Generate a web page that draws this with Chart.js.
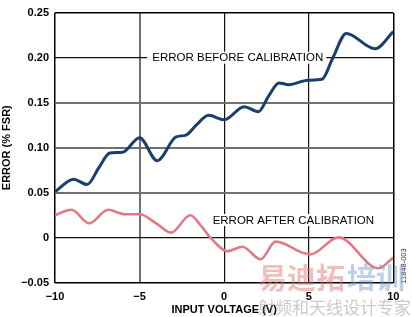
<!DOCTYPE html>
<html>
<head>
<meta charset="utf-8">
<script src="https://cdn.jsdelivr.net/npm/chart.js@4.4.1/dist/chart.umd.min.js"></script>
<style>
  html, body { margin: 0; padding: 0; background: #fff; }
  #wrap { position: relative; width: 412px; height: 317px; }
</style>
</head>
<body>
<div id="wrap"><canvas id="chart" width="412" height="317"></canvas></div>
<script>
// error before calibration (% FSR) vs input voltage (V)
const beforeX = [-10, -8.9, -8.1, -7.4, -6.76, -6.0, -5.0, -3.96, -2.84, -2.25, -1.65, -0.92, 0.0, 1.18, 2.02, 2.62, 3.24, 3.82, 4.96, 5.78, 6.43, 7.22, 8.92, 10];
const beforeY = [0.051, 0.065, 0.059, 0.078, 0.094, 0.095, 0.111, 0.0856, 0.112, 0.114, 0.125, 0.136, 0.131, 0.1456, 0.140, 0.157, 0.172, 0.170, 0.175, 0.176, 0.200, 0.227, 0.210, 0.229];

// error after calibration
const afterX = [-10, -9.02, -7.98, -6.86, -5.88, -5.0, -4.02, -3.14, -2.0, -1.4, -0.81, 0.2, 1.08, 2.16, 3.04, 4.7, 5.1, 6.76, 9.12, 10];
const afterY = [0.025, 0.031, 0.016, 0.031, 0.026, 0.026, 0.016, 0.0056, 0.025, 0.014, 0.0, -0.015, -0.010, -0.024, -0.0044, -0.017, -0.0185, 0.0004, -0.034, -0.022];

const xTicks = [-10, -5, 0, 5, 10];
const xTickLabels = ['−10', '−5', '0', '5', '10'];
const yTicks = [-0.05, 0, 0.05, 0.10, 0.15, 0.20, 0.25];
const yTickLabels = ['−0.05', '0', '0.05', '0.10', '0.15', '0.20', '0.25'];

const curveLabels = ['ERROR BEFORE CALIBRATION', 'ERROR AFTER CALIBRATION'];
const labelAt = [[-4.25, 0.20], [-0.68, 0.0197]];

const FONT = '"Liberation Sans", Arial, sans-serif';

const toPoints = (xs, ys) => xs.map((x, i) => ({ x: x, y: ys[i] }));

function gridStyle(value, edges, greys) {
  if (edges.includes(value)) return ['#000', 1.5];
  if (greys.some(g => Math.abs(g - value) < 1e-9)) return ['#707070', 2];
  return ['#111', 1.2];
}

const curveText = {
  id: 'curveText',
  afterDatasetsDraw(chart) {
    const { ctx, scales } = chart;
    ctx.save();
    ctx.font = '11.5px ' + FONT;
    ctx.textBaseline = 'middle';
    ctx.textAlign = 'left';
    curveLabels.forEach((txt, i) => {
      const px = scales.x.getPixelForValue(labelAt[i][0]);
      const py = scales.y.getPixelForValue(labelAt[i][1]);
      const w = ctx.measureText(txt).width;
      ctx.fillStyle = '#fff';
      ctx.fillRect(px - 5, py - 6, w + 8, 12);
      ctx.fillStyle = '#000';
      ctx.fillText(txt, px, py + 0.5);
    });
    ctx.restore();
  },
  afterDraw(chart) {
    const { ctx } = chart;
    ctx.save();
    // figure code
    ctx.translate(404, 266);
    ctx.rotate(-Math.PI / 2);
    ctx.font = '7.5px ' + FONT;
    ctx.fillStyle = '#333';
    ctx.textAlign = 'center';
    ctx.textBaseline = 'middle';
    ctx.fillText('11848-003', 0, 0);
    ctx.restore();

    // watermark
    ctx.save();
    ctx.textBaseline = 'middle';
    ctx.textAlign = 'left';
    ctx.font = 'bold 29px "Noto Sans CJK SC", sans-serif';
    ctx.fillStyle = 'rgba(225, 110, 110, 0.45)';
    ctx.fillText('易迪拓', 258, 278);
    ctx.fillStyle = 'rgba(110, 150, 205, 0.45)';
    ctx.fillText('培训', 258 + ctx.measureText('易迪拓').width + 2, 278);
    ctx.font = '17px "Noto Sans CJK SC", sans-serif';
    ctx.fillStyle = 'rgba(150, 150, 150, 0.5)';
    ctx.fillText('射频和天线设计专家', 258, 308);
    ctx.restore();
  }
};

new Chart(document.getElementById('chart'), {
  type: 'line',
  data: {
    datasets: [
      {
        label: curveLabels[0],
        data: toPoints(beforeX, beforeY),
        borderColor: '#1b3f6d',
        borderWidth: 3,
        pointRadius: 0,
        cubicInterpolationMode: 'monotone',
        fill: false
      },
      {
        label: curveLabels[1],
        data: toPoints(afterX, afterY),
        borderColor: '#e27a86',
        borderWidth: 2.6,
        pointRadius: 0,
        cubicInterpolationMode: 'monotone',
        fill: false
      }
    ]
  },
  options: {
    responsive: false,
    animation: false,
    devicePixelRatio: 1,
    layout: { padding: { top: 12.7, right: 18.7, bottom: 0, left: 0 } },
    plugins: { legend: { display: false }, tooltip: { enabled: false } },
    scales: {
      x: {
        type: 'linear',
        min: -10,
        max: 10,
        afterBuildTicks: s => { s.ticks = xTicks.map(v => ({ value: v })); },
        afterFit: s => { s.height = 34.3; },
        border: { display: false },
        grid: {
          drawTicks: false,
          color: c => gridStyle(c.tick.value, [-10, 10], [-5])[0],
          lineWidth: c => gridStyle(c.tick.value, [-10, 10], [-5])[1]
        },
        ticks: {
          padding: 8,
          maxRotation: 0,
          color: '#000',
          font: { family: FONT, size: 11, weight: 'bold' },
          callback: (v, i) => xTickLabels[i]
        },
        title: {
          display: true,
          text: 'INPUT VOLTAGE (V)',
          color: '#000',
          padding: 0,
          font: { family: FONT, size: 11, weight: 'bold' }
        }
      },
      y: {
        type: 'linear',
        min: -0.05,
        max: 0.25,
        afterBuildTicks: s => { s.ticks = yTicks.map(v => ({ value: v })); },
        afterFit: s => { s.width = 55; },
        border: { display: false },
        grid: {
          drawTicks: false,
          color: c => gridStyle(c.tick.value, [-0.05, 0.25], [0.05, 0.10, 0.15])[0],
          lineWidth: c => gridStyle(c.tick.value, [-0.05, 0.25], [0.05, 0.10, 0.15])[1]
        },
        ticks: {
          padding: 6,
          color: '#000',
          font: { family: FONT, size: 11, weight: 'bold' },
          callback: (v, i) => yTickLabels[i]
        },
        title: {
          display: true,
          text: 'ERROR (% FSR)',
          color: '#000',
          padding: 0,
          font: { family: FONT, size: 11, weight: 'bold' }
        }
      }
    }
  },
  plugins: [curveText]
});
</script>
</body>
</html>
